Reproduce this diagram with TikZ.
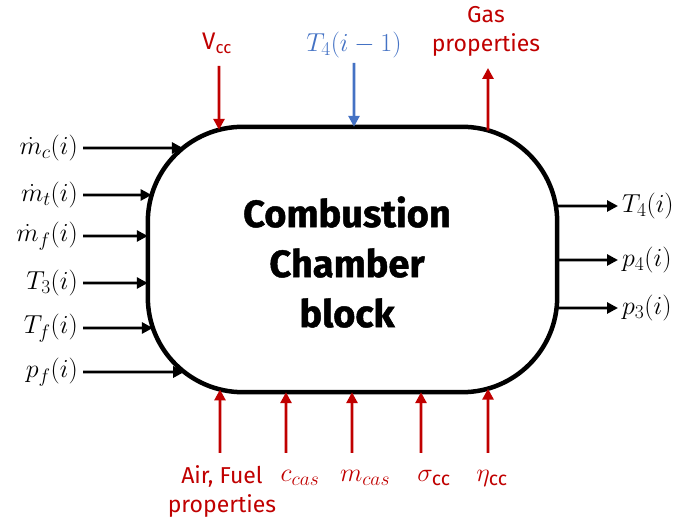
\RequirePackage{fix-cm}
\documentclass[tikz,border=0pt]{standalone}
\usepackage{amsmath}
\usepackage{fontspec}
\setsansfont{Fira Sans}
\newfontfamily\ttlfont{Fira Sans}[BoldFeatures={FakeBold=1.2}]
\usetikzlibrary{arrows.meta,intersections}
\definecolor{cred}{RGB}{192,0,0}
\definecolor{cblue}{RGB}{68,114,196}
\DeclareMathSizes{26}{26}{19.5}{14}
\begin{document}
\begin{tikzpicture}[x=1pt,y=1pt,
  arr/.style={line width=2.8pt,-{Triangle[length=11pt,width=11pt]}},
  mlab/.style={inner sep=0pt,font=\fontsize{26}{30}\selectfont},
  slab/.style={inner sep=0pt,font=\sffamily\fontsize{23}{29}\selectfont,text=cred,align=center},
  boxline/.style={line width=4.5pt,rounded corners=95pt}
]
\useasboundingbox (0,0) rectangle (681,525);
% block
\node[minimum width=409pt,minimum height=265pt,inner sep=0pt] (cc) at (352.5,265.5) {};
\draw[boxline,name path=boxp] (cc.south west) rectangle (cc.north east);
\node[font=\ttlfont\bfseries\fontsize{38}{50}\selectfont,align=center,inner sep=0pt] (title) at (347,263) {Combustion\\Chamber\\block};
% left inputs
\foreach \n/\y/\t in {1/377/{\dot m_c(i)},2/330/{\dot m_t(i)},3/289/{\dot m_f(i)},4/242/{T_3(i)},5/197/{T_f(i)},6/153/{p_f(i)}}{
  \node[mlab,anchor=east] (in\n) at (78,\y) {$\t$};
  \path[name path=h\n] ([xshift=5pt]in\n.east) -- ++(150,0);
  \path[name intersections={of=boxp and h\n,by=ie\n}];
  \draw[arr] ([xshift=5pt]in\n.east) -- (ie\n);
}
% right outputs
\foreach \n/\y/\t in {1/319/{T_4(i)},2/265/{p_4(i)},3/217/{p_3(i)}}{
  \node[mlab,anchor=west] (out\n) at (622,\y) {$\t$};
  \path[name path=r\n] ([xshift=-4pt]out\n.west) -- ++(-150,0);
  \path[name intersections={of=boxp and r\n,by=oe\n}];
  \draw[arr] (oe\n) -- ([xshift=-4pt]out\n.west);
}
% top
\node[slab,anchor=base,font=\sffamily\fontsize{24}{28}\selectfont] (vcc) at (217,475) {V$_\text{cc}$};
\coordinate (vs) at (219,459);
\path[name path=vv] (vs) -- (219,265);
\path[name intersections={of=boxp and vv,by=ve}];
\draw[arr,cred] (vs) -- (ve);

\node[mlab,anchor=base,text=cblue] (t4p) at (354,473) {$T_4(i-1)$};
\coordinate (ts) at (354,462);
\path[name path=tv] (ts) -- (354,265);
\path[name intersections={of=boxp and tv,by=te}];
\draw[arr,cblue] (ts) -- (te);

\node[slab,anchor=north] (gas) at (486,519) {Gas\\properties};
\coordinate (gs) at (488,457);
\path[name path=gv] (gs) -- (488,265);
\path[name intersections={of=boxp and gv,by=ge}];
\draw[arr,cred] (ge) -- (gs);
% bottom
\node[slab,anchor=north] (air) at (222,60) {Air, Fuel\\properties};
\node[mlab,anchor=base,text=cred] (ccas) at (300,43) {$c_{cas}$};
\node[mlab,anchor=base,text=cred] (mcas) at (365,43) {$m_{cas}$};
\node[mlab,anchor=base,text=cred] (scc) at (434,43) {$\sigma_{\text{\sffamily cc}}$};
\node[mlab,anchor=base,text=cred] (ecc) at (492,43) {$\eta_{\text{\sffamily cc}}$};
\foreach \n/\x in {1/220,2/286,3/352,4/421,5/488}{
  \coordinate (bs\n) at (\x,72);
  \path[name path=bv\n] (bs\n) -- (\x,265);
  \path[name intersections={of=boxp and bv\n,by=be\n}];
  \draw[arr,cred] (bs\n) -- (be\n);
}
\end{tikzpicture}
\end{document}
